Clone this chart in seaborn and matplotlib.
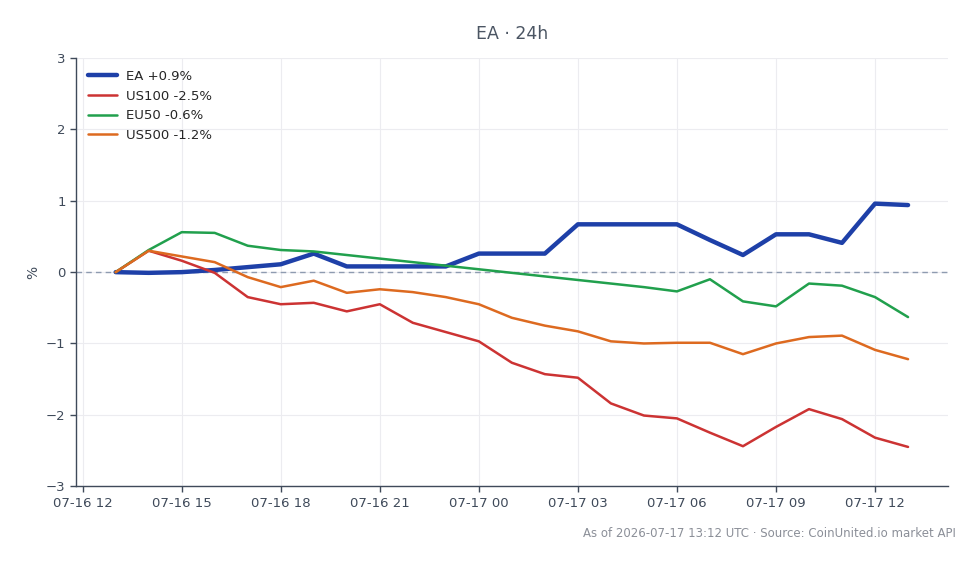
import numpy as np
import pandas as pd
import matplotlib
matplotlib.use("Agg")
import matplotlib.pyplot as plt
import matplotlib.dates as mdates
import seaborn as sns

sns.set_theme(style="whitegrid")
plt.rcParams["font.family"] = ["DejaVu Sans"]

# hourly % change over the last 24h
hours = pd.date_range("2026-07-16 13:00", "2026-07-17 13:00", freq="h")
ea = [0.00, -0.01, 0.00, 0.03, 0.07, 0.11, 0.26, 0.08, 0.08, 0.08, 0.08, 0.26, 0.26,
      0.26, 0.67, 0.67, 0.67, 0.67, 0.45, 0.24, 0.53, 0.53, 0.41, 0.96, 0.94]
us100 = [0.00, 0.30, 0.16, -0.01, -0.35, -0.45, -0.43, -0.55, -0.45, -0.71, -0.84, -0.97, -1.27,
         -1.43, -1.48, -1.84, -2.01, -2.05, -2.25, -2.44, -2.17, -1.92, -2.06, -2.32, -2.45]
eu50 = [0.00, 0.31, 0.56, 0.55, 0.37, 0.31, 0.29, 0.24, 0.19, 0.14, 0.09, 0.04, -0.01,
        -0.06, -0.11, -0.16, -0.21, -0.27, -0.10, -0.41, -0.48, -0.16, -0.19, -0.35, -0.63]
us500 = [0.00, 0.30, 0.22, 0.14, -0.07, -0.21, -0.12, -0.29, -0.24, -0.28, -0.35, -0.45, -0.64,
         -0.75, -0.83, -0.97, -1.00, -0.99, -0.99, -1.15, -1.00, -0.91, -0.89, -1.09, -1.22]

series = {"EA +0.9%": ea, "US100 -2.5%": us100, "EU50 -0.6%": eu50, "US500 -1.2%": us500}
colors = {"EA +0.9%": "#1e40a8", "US100 -2.5%": "#cc3333",
          "EU50 -0.6%": "#21a04d", "US500 -1.2%": "#dd6a20"}
widths = {"EA +0.9%": 3.2, "US100 -2.5%": 1.8, "EU50 -0.6%": 1.8, "US500 -1.2%": 1.8}

df = pd.DataFrame(series, index=hours).reset_index(names="time")
long = df.melt(id_vars="time", var_name="asset", value_name="pct")

fig = plt.figure(figsize=(9.8, 5.64), dpi=100)
ax = fig.add_axes([0.0776, 0.138, 0.8894, 0.759])

ax.axhline(0, color="#8e9bb0", linestyle=(0, (4, 3)), linewidth=1, zorder=1.5)

for name in series:
    sub = long[long["asset"] == name]
    sns.lineplot(data=sub, x="time", y="pct", ax=ax, color=colors[name],
                 linewidth=widths[name], label=name, zorder=2)

ax.set_ylim(-3, 3)
ax.set_yticks(range(-3, 4))
ax.xaxis.set_major_locator(mdates.HourLocator(byhour=range(0, 24, 3)))
ax.xaxis.set_major_formatter(mdates.DateFormatter("%m-%d %H"))

ax.grid(True, color="#ececf0", linewidth=0.8)
for side in ["top", "right"]:
    ax.spines[side].set_visible(False)
for side in ["left", "bottom"]:
    ax.spines[side].set_color("#3f4a5a")
    ax.spines[side].set_linewidth(1.0)
ax.tick_params(axis="both", colors="#3f4a5a", labelcolor="#3f4a5a", labelsize=9.5,
               length=4, width=1, direction="out", bottom=True, left=True)

ax.set_xlabel("")
ax.set_ylabel("%", color="#3f4a5a", fontsize=10)
ax.set_title("EA · 24h", color="#4b5563", fontsize=12.5, pad=14)

leg = ax.legend(loc="upper left", frameon=False, fontsize=9.5, handlelength=2.2,
                handletextpad=0.7, borderaxespad=0.5)
for line in leg.get_lines():
    line.set_linewidth(widths[line.get_label()])

fig.text(0.975, 0.043, "As of 2026-07-17 13:12 UTC · Source: CoinUnited.io market API",
         ha="right", va="bottom", color="#8b8f98", fontsize=8.5)

fig.savefig("out.png", dpi=100)
